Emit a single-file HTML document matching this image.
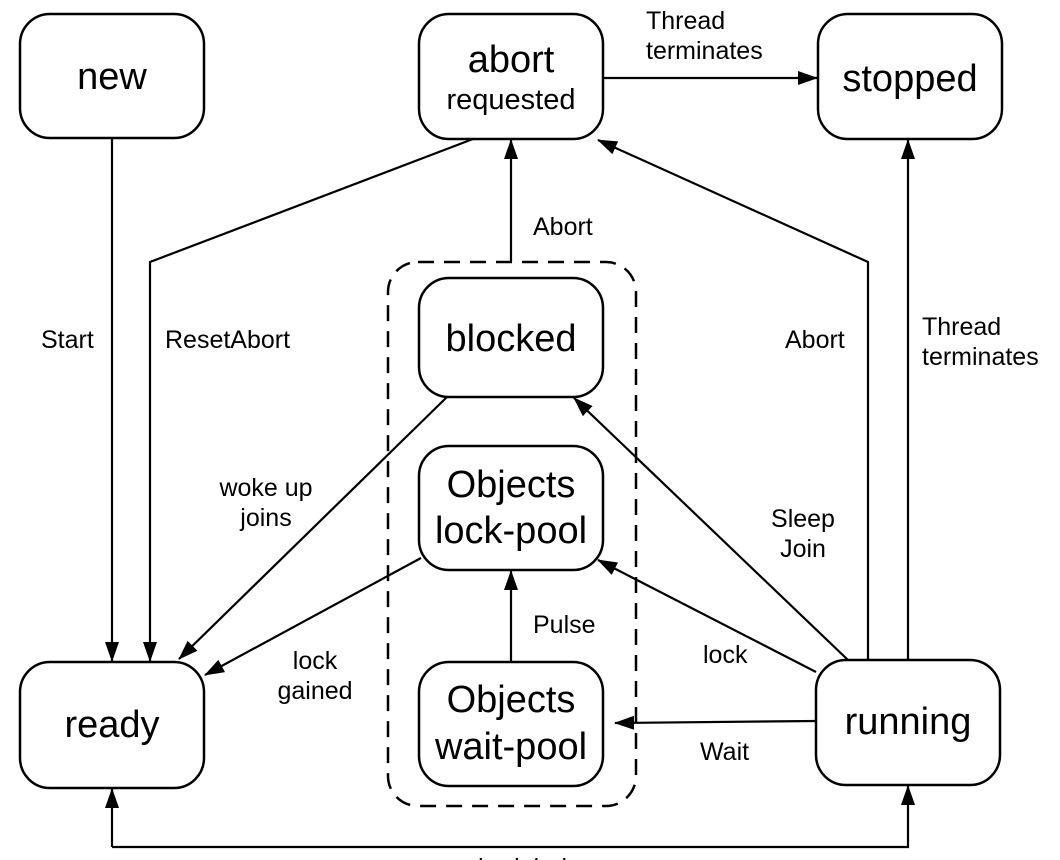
<!DOCTYPE html>
<html><head><meta charset="utf-8"><style>body{margin:0;background:#fff}svg{display:block}</style></head><body>
<svg width="1060" height="860" viewBox="0 0 1060 860" xmlns="http://www.w3.org/2000/svg" font-family="Liberation Sans, Arial, sans-serif">
<defs><marker id="a" markerWidth="20" markerHeight="14" refX="19" refY="7" orient="auto" markerUnits="userSpaceOnUse"><path d="M0,0 L20,7 L0,14 Z" fill="#000"/></marker></defs>
<g fill="none" stroke="#000" stroke-width="2.5">
<rect x="20" y="14" width="184" height="124" rx="30"/>
<rect x="419" y="14" width="184" height="125" rx="30"/>
<rect x="818" y="14" width="184" height="125" rx="30"/>
<rect x="419" y="278" width="184" height="119" rx="30"/>
<rect x="419" y="446" width="184" height="124" rx="30"/>
<rect x="419" y="662" width="184" height="124" rx="30"/>
<rect x="20" y="662" width="184" height="126" rx="30"/>
<rect x="816" y="660" width="184" height="125" rx="30"/>
<rect x="388" y="262" width="248" height="544" rx="30" stroke-dasharray="16,10"/>
</g>
<g fill="none" stroke="#000" stroke-width="2.2" marker-end="url(#a)">
<path d="M112 138 V661"/>
<path d="M473 139 L150 262 V661"/>
<path d="M511 262 V140"/>
<path d="M603 78 H817"/>
<path d="M868 660 V262 L598 140"/>
<path d="M908 660 V140"/>
<path d="M447 397 L179 659"/>
<path d="M421 558 L205 675"/>
<path d="M511 662 V571"/>
<path d="M848 660 L574 398"/>
<path d="M816 672 L598 560"/>
<path d="M816 721 L615 723"/>
<path d="M112 847 V789" marker-end="url(#a)"/>
<path d="M112 847 H908 V786"/>
</g>
<g font-size="38" text-anchor="middle" fill="#000">
<text x="112" y="89">new</text>
<text x="511" y="72">abort</text>
<text x="511" y="109" font-size="29">requested</text>
<text x="910" y="91">stopped</text>
<text x="511" y="351">blocked</text>
<text x="511" y="497">Objects</text>
<text x="511" y="543">lock-pool</text>
<text x="511" y="712">Objects</text>
<text x="511" y="759">wait-pool</text>
<text x="112" y="737">ready</text>
<text x="908" y="734">running</text>
</g>
<g font-size="25" fill="#000">
<text x="41" y="348">Start</text>
<text x="165" y="348">ResetAbort</text>
<text x="533" y="235">Abort</text>
<text x="646" y="29">Thread</text>
<text x="646" y="59">terminates</text>
<text x="785" y="348">Abort</text>
<text x="922" y="335">Thread</text>
<text x="922" y="365">terminates</text>
<text x="266" y="496" text-anchor="middle">woke up</text>
<text x="266" y="526" text-anchor="middle">joins</text>
<text x="803" y="527" text-anchor="middle">Sleep</text>
<text x="803" y="557" text-anchor="middle">Join</text>
<text x="315" y="669" text-anchor="middle">lock</text>
<text x="315" y="699" text-anchor="middle">gained</text>
<text x="533" y="633">Pulse</text>
<text x="703" y="663">lock</text>
<text x="700" y="760">Wait</text>
<text x="510" y="876" text-anchor="middle">scheduled</text>
</g>
</svg>
</body></html>
